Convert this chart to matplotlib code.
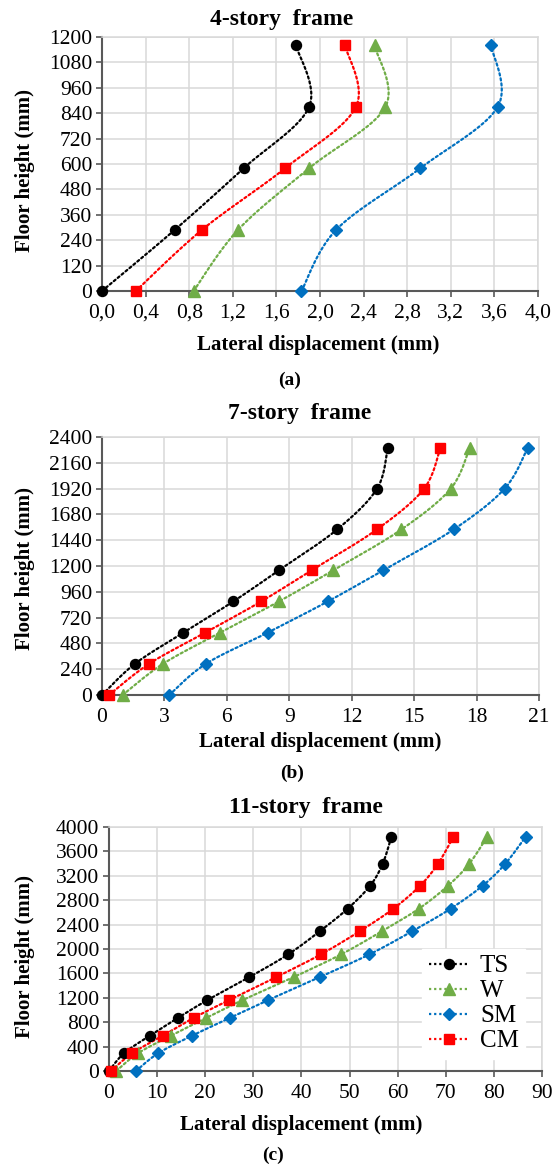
import numpy as np
import matplotlib
matplotlib.use("Agg")
import matplotlib.pyplot as plt
from matplotlib.ticker import MultipleLocator, FuncFormatter
from matplotlib.lines import Line2D

plt.rcParams["font.family"] = ["Liberation Serif", "DejaVu Serif"]

# -----------------------------
# data
# -----------------------------
h4 = [0, 290, 580, 870, 1160]
ts4 = [0.00, 0.67, 1.30, 1.90, 1.78]
w4 = [0.84, 1.25, 1.90, 2.60, 2.50]
sm4 = [1.83, 2.15, 2.92, 3.63, 3.57]
cm4 = [0.31, 0.92, 1.68, 2.33, 2.23]

h7 = [0, 290, 580, 870, 1160, 1540, 1920, 2300]
ts7 = [0.00, 1.58, 3.91, 6.31, 8.50, 11.30, 13.22, 13.73]
w7 = [0.99, 2.93, 5.68, 8.50, 11.11, 14.39, 16.76, 17.67]
sm7 = [3.23, 4.99, 7.96, 10.85, 13.51, 16.90, 19.35, 20.46]
cm7 = [0.34, 2.26, 4.96, 7.65, 10.07, 13.21, 15.48, 16.26]

h11 = [0, 290, 580, 870, 1160, 1540, 1910, 2290, 2660, 3040, 3400, 3840]
ts11 = [0.0, 3.1, 8.5, 14.3, 20.4, 29.2, 37.2, 43.8, 49.6, 54.3, 56.9, 58.7]
w11 = [1.5, 6.0, 12.9, 20.2, 27.7, 38.4, 48.2, 56.7, 64.4, 70.5, 74.9, 78.6]
sm11 = [5.6, 10.2, 17.3, 25.1, 33.0, 43.8, 54.1, 63.0, 71.0, 77.7, 82.4, 86.6]
cm11 = [0.4, 4.8, 11.2, 17.6, 24.9, 34.8, 44.0, 52.1, 59.1, 64.7, 68.4, 71.6]

series_names = ["TS", "W", "SM", "CM"]
colors = {"TS": "#000000", "W": "#70ad47", "SM": "#0070c0", "CM": "#ff0000"}
markers = {"TS": "o", "W": "^", "SM": "D", "CM": "s"}
msizes = {"TS": 7.2, "W": 8, "SM": 6.2, "CM": 7}

W, H = 555, 1165
fig = plt.figure(figsize=(W / 100, H / 100), dpi=100)


def box(left, top, right, bottom):
    return [left / W, 1 - bottom / H, (right - left) / W, (bottom - top) / H]


def smooth(x, y, n=20):
    # Excel-style smoothed line (cubic Bezier, Catmull-Rom tangents)
    p = np.column_stack([x, y]).astype(float)
    pts = [p[0]]
    for i in range(len(p) - 1):
        p0 = p[i - 1] if i > 0 else p[i]
        p3 = p[i + 2] if i + 2 < len(p) else p[i + 1]
        c1 = p[i] + (p[i + 1] - p0) / 6
        c2 = p[i + 1] - (p3 - p[i]) / 6
        t = np.linspace(0, 1, n)[1:, None]
        seg = ((1 - t) ** 3 * p[i] + 3 * (1 - t) ** 2 * t * c1
               + 3 * (1 - t) * t ** 2 * c2 + t ** 3 * p[i + 1])
        pts.extend(seg)
    pts = np.array(pts)
    return pts[:, 0], pts[:, 1]


def panel(rect, heights, data, xmax, xstep, ymax, ystep, fmt=None):
    ax = fig.add_axes(rect)
    for name in ["TS", "W", "SM", "CM"]:
        xs = data[name]
        sx, sy = smooth(xs, heights)
        ax.plot(sx, sy, color=colors[name], lw=1.6, ls=(0, (1, 1.3)),
                dash_capstyle="round", clip_on=False, zorder=3)
        ax.plot(xs, heights, ls="none", marker=markers[name],
                ms=msizes[name], color=colors[name], clip_on=False, zorder=4)
    ax.set_xlim(0, xmax)
    ax.set_ylim(0, ymax)
    ax.xaxis.set_major_locator(MultipleLocator(xstep))
    ax.yaxis.set_major_locator(MultipleLocator(ystep))
    if fmt is not None:
        ax.xaxis.set_major_formatter(FuncFormatter(fmt))
    ax.grid(True, color="#d9d9d9", lw=1.1, zorder=0)
    ax.set_axisbelow(True)
    for s in ["top", "right"]:
        ax.spines[s].set_color("#d9d9d9")
        ax.spines[s].set_linewidth(1.1)
    for s in ["left", "bottom"]:
        ax.spines[s].set_color("#595959")
        ax.spines[s].set_linewidth(1.5)
    ax.tick_params(axis="both", direction="out", length=4, width=1.2,
                   color="#595959", labelsize=15.5, labelcolor="#000000")
    ax.tick_params(axis="x", pad=5)
    ax.tick_params(axis="y", pad=3)
    return ax


comma = lambda v, pos: f"{v:.1f}".replace(".", ",")

ax1 = panel(box(102, 37, 538, 291), h4,
            {"TS": ts4, "W": w4, "SM": sm4, "CM": cm4}, 4.0, 0.4, 1200, 120, comma)
ax2 = panel(box(102, 437, 539, 695), h7,
            {"TS": ts7, "W": w7, "SM": sm7, "CM": cm7}, 21, 3, 2400, 240)
ax3 = panel(box(109, 827, 542, 1071), h11,
            {"TS": ts11, "W": w11, "SM": sm11, "CM": cm11}, 90, 10, 4000, 400)

# titles, axis labels and captions
titles = ["4-story  frame", "7-story  frame", "11-story  frame"]
title_pos = [(282, 20), (300, 413), (306, 807)]
xlab_pos = [(318, 345), (320, 742), (301, 1125)]
cap_pos = [(290, 380), (292, 773), (273, 1155)]
captions = ["(a)", "(b)", "(c)"]
ylab_pos = [(25, 170), (25, 568), (25, 957)]

for i in range(3):
    fig.text(title_pos[i][0] / W, 1 - title_pos[i][1] / H, titles[i],
             ha="center", va="center", fontsize=17, fontweight="bold")
    fig.text(xlab_pos[i][0] / W, 1 - xlab_pos[i][1] / H, "Lateral displacement (mm)",
             ha="center", va="center", fontsize=15, fontweight="bold")
    fig.text(cap_pos[i][0] / W, 1 - cap_pos[i][1] / H, captions[i],
             ha="center", va="center", fontsize=14, fontweight="bold")
    fig.text(ylab_pos[i][0] / W, 1 - ylab_pos[i][1] / H, "Floor height (mm)",
             ha="center", va="center", rotation=90, fontsize=15, fontweight="bold")

# legend
handles = [Line2D([], [], color=colors[n], lw=1.6, ls=(0, (1, 1.3)),
                  marker=markers[n], ms=msizes[n]) for n in series_names]
leg = ax3.legend(handles, series_names, loc="lower right",
                 bbox_to_anchor=(0.99, 0.0), frameon=True, fancybox=False,
                 edgecolor="white", framealpha=1, fontsize=18,
                 handlelength=1.6, handletextpad=0.45, labelspacing=0.1,
                 borderpad=0.25)
leg.set_zorder(10)

fig.savefig("out.png", dpi=100)
